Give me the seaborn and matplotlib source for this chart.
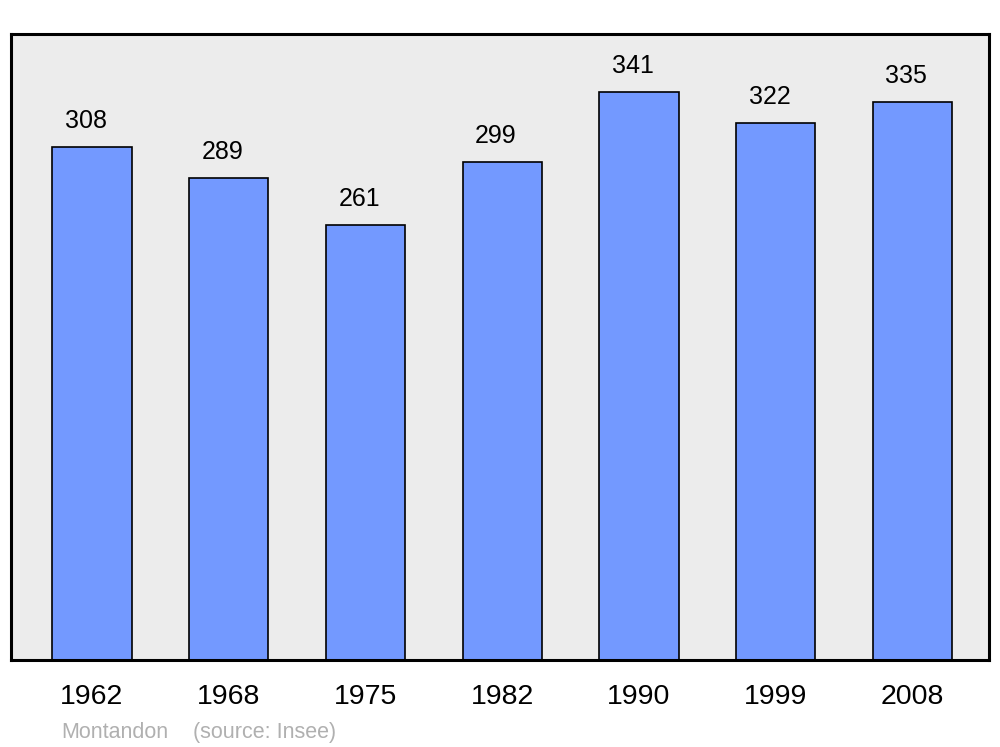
import matplotlib
matplotlib.use("Agg")
import matplotlib.pyplot as plt
import seaborn as sns

# population data
years = ["1962", "1968", "1975", "1982", "1990", "1999", "2008"]
population = [308, 289, 261, 299, 341, 322, 335]

sns.set_style("white")
plt.rcParams['font.family'] = ['Liberation Sans', 'DejaVu Sans']

fig = plt.figure(figsize=(10, 7.47), dpi=100)
ax = fig.add_axes([0.011, 0.1165, 0.978, 0.838])
ax.set_facecolor("#ececec")

sns.barplot(x=years, y=population, color="#7399ff", saturation=1,
            width=0.58, edgecolor="black", linewidth=1.2, ax=ax)

# value labels above the bars
for i, v in enumerate(population):
    ax.annotate(str(v), xy=(i, v), xytext=(-4.5, 10), textcoords="offset points",
                ha="center", va="bottom", fontsize=18, color="black")

ax.set_xlim(-0.592, 6.559)
ax.set_ylim(0, 375.6)
ax.set_yticks([])
ax.tick_params(axis="x", length=0, pad=17, labelsize=20.5, labelcolor="black")
for s in ax.spines.values():
    s.set_visible(True)
    s.set_color("black")
    s.set_linewidth(2.2)

fig.text(0.061, 0.0188, "Montandon", fontsize=15.5,
         color="#b0b0b0", ha="left", va="center")
fig.text(0.193, 0.0188, "(source: Insee)", fontsize=15.5,
         color="#b0b0b0", ha="left", va="center")

plt.savefig("out.png", dpi=100)
